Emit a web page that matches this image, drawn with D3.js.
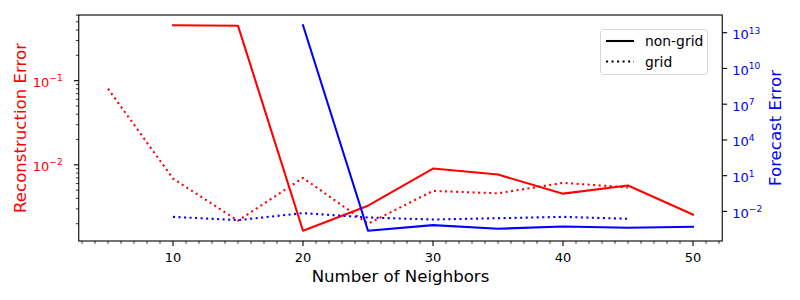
<!DOCTYPE html>
<html>
<head>
<meta charset="utf-8">
<script src="https://cdn.jsdelivr.net/npm/d3@7"></script>
<style>
  body { margin: 0; background: #fff; }
  text { font-family: "DejaVu Sans", sans-serif; }
</style>
</head>
<body>
<div id="chart"></div>
<script>
// number of neighbors (x values)
var neighbors = [5, 10, 15, 20, 25, 30, 35, 40, 45, 50];
// reconstruction error (left axis), null = not measured
var reconNonGrid = [null, 0.455, 0.449, 0.00165, 0.00327, 0.00904, 0.00767, 0.00455, 0.00568, 0.00257];
var reconGrid = [0.0803, 0.00687, 0.00217, 0.0070, 0.0020, 0.0049, 0.00459, 0.00611, 0.0054, null];
// forecast error (right axis)
var forecastNonGrid = [null, null, null, 4.2e13, 2.4e-4, 7.1e-4, 3.5e-4, 5.5e-4, 4.2e-4, 5.1e-4];
var forecastGrid = [null, 3.5e-3, 1.86e-3, 7.2e-3, 3.1e-3, 2.1e-3, 2.7e-3, 3.5e-3, 2.4e-3, null];

var xMajor = [10, 20, 30, 40, 50];
var rightExponents = [-2, 1, 4, 7, 10, 13];
var legendLabels = ["non-grid", "grid"];

var W = 800, H = 300;
var pLeft = 78.75, pRight = 722.25, pTop = 15, pBottom = 241;
var tickFs = 13;

var svg = d3.select("#chart").append("svg").attr("width", W).attr("height", H);

// matplotlib style 5% margins
function padLinear(vals) {
  var e = d3.extent(vals), p = (e[1] - e[0]) * 0.05;
  return [e[0] - p, e[1] + p];
}
function padLog(vals) {
  var e = d3.extent(vals.filter(function(v) { return v != null; }).map(Math.log10));
  var p = (e[1] - e[0]) * 0.05;
  return [Math.pow(10, e[0] - p), Math.pow(10, e[1] + p)];
}

var x = d3.scaleLinear().domain(padLinear(neighbors)).range([pLeft, pRight]);
var yL = d3.scaleLog().domain(padLog(reconNonGrid.concat(reconGrid))).range([pBottom, pTop]);
var yR = d3.scaleLog().domain(padLog(forecastNonGrid.concat(forecastGrid))).range([pBottom, pTop]);

function supLabel(sel, exp, fs) {
  sel.append("tspan").text("10");
  sel.append("tspan").attr("dy", -fs * 0.42).style("font-size", (fs * 0.7) + "px")
    .text(String(exp).replace("-", "\u2212"));
}
function isDecade(d) {
  var m = d / Math.pow(10, Math.floor(Math.log10(d) + 1e-9));
  return Math.abs(m - 1) < 1e-6;
}

// x ticks
var xMinor = d3.range(3, 53, 1).filter(function(v) { return xMajor.indexOf(v) < 0; });
var gx = svg.append("g");
gx.selectAll(".minor").data(xMinor).enter().append("line")
  .attr("x1", function(d) { return x(d); }).attr("x2", function(d) { return x(d); })
  .attr("y1", pBottom).attr("y2", pBottom + 2.8)
  .attr("stroke", "#000").attr("stroke-width", 0.8);
gx.selectAll(".major").data(xMajor).enter().append("line")
  .attr("x1", function(d) { return x(d); }).attr("x2", function(d) { return x(d); })
  .attr("y1", pBottom).attr("y2", pBottom + 4.9)
  .attr("stroke", "#000").attr("stroke-width", 1.1);
gx.selectAll("text").data(xMajor).enter().append("text")
  .attr("x", function(d) { return x(d); }).attr("y", pBottom + 20.5)
  .attr("text-anchor", "middle").style("font-size", tickFs + "px").attr("fill", "#000")
  .text(function(d) { return d; });

// left ticks
var lt = yL.ticks();
var gl = svg.append("g");
gl.selectAll("line").data(lt).enter().append("line")
  .attr("y1", function(d) { return yL(d); }).attr("y2", function(d) { return yL(d); })
  .attr("x1", pLeft).attr("x2", function(d) { return isDecade(d) ? pLeft - 4.9 : pLeft - 2.8; })
  .attr("stroke", "#000").attr("stroke-width", function(d) { return isDecade(d) ? 1.1 : 0.8; });
lt.filter(isDecade).forEach(function(d) {
  var t = gl.append("text").attr("x", pLeft - 16).attr("y", yL(d) + 6)
    .attr("text-anchor", "end").style("font-size", tickFs + "px").attr("fill", "#ff0000");
  supLabel(t, Math.round(Math.log10(d)), tickFs);
});

// right ticks
var gr = svg.append("g");
rightExponents.forEach(function(e) {
  var v = Math.pow(10, e);
  gr.append("line").attr("x1", pRight).attr("x2", pRight + 4.9)
    .attr("y1", yR(v)).attr("y2", yR(v)).attr("stroke", "#000").attr("stroke-width", 1.1);
  var t = gr.append("text").attr("x", pRight + 10).attr("y", yR(v) + 6.5)
    .style("font-size", tickFs + "px").attr("fill", "#0000ff");
  supLabel(t, e, tickFs);
});

// lines
function drawLine(vals, scale, color, dotted) {
  var line = d3.line()
    .defined(function(d, i) { return vals[i] != null; })
    .x(function(d, i) { return x(neighbors[i]); })
    .y(function(d, i) { return scale(vals[i]); });
  svg.append("path").datum(vals).attr("d", line)
    .attr("fill", "none").attr("stroke", color).attr("stroke-width", 2.08)
    .attr("stroke-linejoin", "round")
    .attr("stroke-linecap", dotted ? "butt" : "square")
    .attr("stroke-dasharray", dotted ? "2.08,3.44" : null);
}
drawLine(reconNonGrid, yL, "#ff0000", false);
drawLine(reconGrid, yL, "#ff0000", true);
drawLine(forecastNonGrid, yR, "#0000ff", false);
drawLine(forecastGrid, yR, "#0000ff", true);

// frame
svg.append("rect").attr("x", pLeft).attr("y", pTop)
  .attr("width", pRight - pLeft).attr("height", pBottom - pTop)
  .attr("fill", "none").attr("stroke", "#000").attr("stroke-width", 1.1);

// axis labels
svg.append("text").attr("x", (pLeft + pRight) / 2).attr("y", 282)
  .attr("text-anchor", "middle").style("font-size", "16.6px").attr("fill", "#000")
  .text("Number of Neighbors");
svg.append("text").attr("transform", "translate(26," + (pTop + pBottom) / 2 + ") rotate(-90)")
  .attr("text-anchor", "middle").style("font-size", "16.6px").attr("fill", "#ff0000")
  .text("Reconstruction Error");
svg.append("text").attr("transform", "translate(781," + (pTop + pBottom) / 2 + ") rotate(-90)")
  .attr("text-anchor", "middle").style("font-size", "16.6px").attr("fill", "#0000ff")
  .text("Forecast Error");

// legend
var lg = svg.append("g").attr("transform", "translate(600,29)");
lg.append("rect").attr("x", 0.5).attr("y", 0.5).attr("width", 107).attr("height", 45)
  .attr("rx", 2.8).attr("fill", "#fff").attr("fill-opacity", 0.8)
  .attr("stroke", "#d6d6d6").attr("stroke-width", 1);
legendLabels.forEach(function(lab, i) {
  var yy = 12 + i * 20.5;
  lg.append("line").attr("x1", 6).attr("x2", 34).attr("y1", yy).attr("y2", yy)
    .attr("stroke", "#000").attr("stroke-width", 2.08)
    .attr("stroke-dasharray", i == 1 ? "2.08,3.44" : null);
  lg.append("text").attr("x", 45).attr("y", yy + 5)
    .style("font-size", "13.9px").attr("fill", "#000").text(lab);
});
</script>
</body>
</html>
